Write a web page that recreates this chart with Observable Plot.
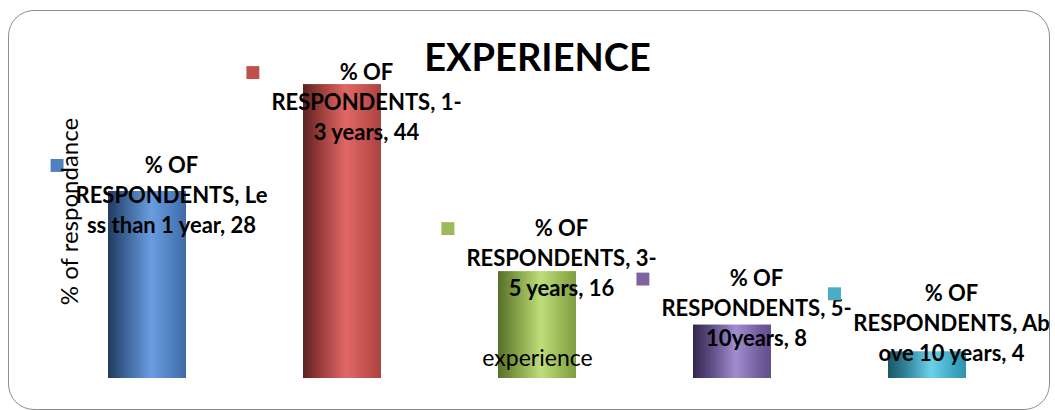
<!DOCTYPE html>
<html>
<head>
<meta charset="utf-8">
<script src="https://cdn.jsdelivr.net/npm/d3@7"></script>
<script src="https://cdn.jsdelivr.net/npm/@observablehq/plot@0.6"></script>
<style>
  html, body { margin: 0; padding: 0; background: #fff; }
  #wrap { position: relative; width: 1055px; height: 410px; overflow: hidden; }
  #frame { position: absolute; left: 8px; top: 10px; width: 1042px; height: 400px;
           border: 1.6px solid #8e8e8e; border-radius: 26px; box-sizing: border-box; }
  #chart { position: absolute; left: 0; top: 0; }
</style>
</head>
<body>
<div id="wrap"><div id="frame"></div><div id="chart"></div></div>
<script>
// ---- data ----
const categories = ["Less than 1 year", "1-3 years", "3-5 years", "5-10years", "Above 10 years"];
const values = [28, 44, 16, 8, 4];
const labelLines = [
  "% OF\nRESPONDENTS, Le\nss than 1 year, 28",
  "% OF\nRESPONDENTS, 1-\n3 years, 44",
  "% OF\nRESPONDENTS, 3-\n5 years, 16",
  "% OF\nRESPONDENTS, 5-\n10years, 8",
  "% OF\nRESPONDENTS, Ab\nove 10 years, 4"
];
const chartTitle = "EXPERIENCE";
const yTitle = "% of respondance";
const xTitle = "experience";

// ---- styles / layout ----
const keyColors = ["#4f81bd", "#c0504d", "#9bbb59", "#8064a2", "#4bacc6"];
const gradStops = [
  ["#213a5e", "#3b6396", "#6a9de0", "#4c7dbb", "#3f6ba6"],
  ["#5a2222", "#9a3c3b", "#e06866", "#bf4e4c", "#a84442"],
  ["#56702a", "#7f9c44", "#c0dd7b", "#93b24f", "#809d43"],
  ["#35284f", "#5b4a80", "#a28ecf", "#725d9e", "#624f8a"],
  ["#1b5666", "#2f8199", "#6dd0ea", "#3ca6c3", "#3391ab"]
];
const labelNudge = [-17, -3, -34, -37, -49]; // px of first-line baseline vs bar top
const labelSize = 22;
const labelFont = `bold ${labelSize}px Lato`;
const labelShift = 24;

const rows = categories.map((c, i) => ({category: c, value: values[i], label: labelLines[i]}));

const ctx = document.createElement("canvas").getContext("2d");
ctx.font = labelFont;
const blockWidth = labelLines.map(t => d3.max(t.split("\n"), s => ctx.measureText(s).width));

const labelMarks = rows.flatMap((r, i) => [
  Plot.text([r], {
    x: "category", y: "value", text: "label",
    dx: labelShift, dy: labelNudge[i] - 23,
    lineAnchor: "top", lineHeight: 30 / labelSize, textAnchor: "middle",
    fontSize: labelSize, fontWeight: "bold", fontFamily: "Lato", fill: "#000"
  }),
  Plot.dot([r], {
    x: "category", y: "value", symbol: "square", r: 7.3,
    dx: labelShift - blockWidth[i] / 2 - 12 - 6.5, dy: labelNudge[i] - 9,
    fill: keyColors[i], stroke: "none"
  })
]);

const plot = Plot.plot({
  width: 1055, height: 410,
  marginLeft: 49.5, marginRight: 30.5, marginTop: 44, marginBottom: 32,
  style: {background: "transparent", fontFamily: "Lato"},
  x: {domain: categories, paddingInner: 0.6, paddingOuter: 0.3, axis: null},
  y: {domain: [0, 50], axis: null},
  color: {domain: categories, range: categories.map((c, i) => `url(#grad${i})`)},
  marks: [
    Plot.barY(rows, {x: "category", y: "value", fill: "category", inset: 0}),
    Plot.text([xTitle], {text: d => d, frameAnchor: "bottom", dy: -20, lineAnchor: "middle",
      textAnchor: "middle", fontSize: 23, fontFamily: "Lato", fill: "#000"}),
    ...labelMarks,
    Plot.text([yTitle], {text: d => d, frameAnchor: "left", dx: 20.5, rotate: -90,
      lineAnchor: "middle", textAnchor: "middle", fontSize: 24, fontFamily: "Lato", fill: "#000"}),
    Plot.text([chartTitle], {text: d => d, frameAnchor: "top", dy: 0, lineAnchor: "top",
      textAnchor: "middle", fontSize: 38, fontWeight: "bold", fontFamily: "Lato", fill: "#000"})
  ]
});

const svg = d3.select(plot);
const defs = svg.insert("defs", ":first-child");
gradStops.forEach((stops, i) => {
  const g = defs.append("linearGradient").attr("id", `grad${i}`)
    .attr("x1", 0).attr("x2", 1).attr("y1", 0).attr("y2", 0);
  [0, 0.22, 0.55, 0.85, 1].forEach((o, k) =>
    g.append("stop").attr("offset", o).attr("stop-color", stops[k]));
});
document.getElementById("chart").appendChild(plot);
</script>
</body>
</html>
